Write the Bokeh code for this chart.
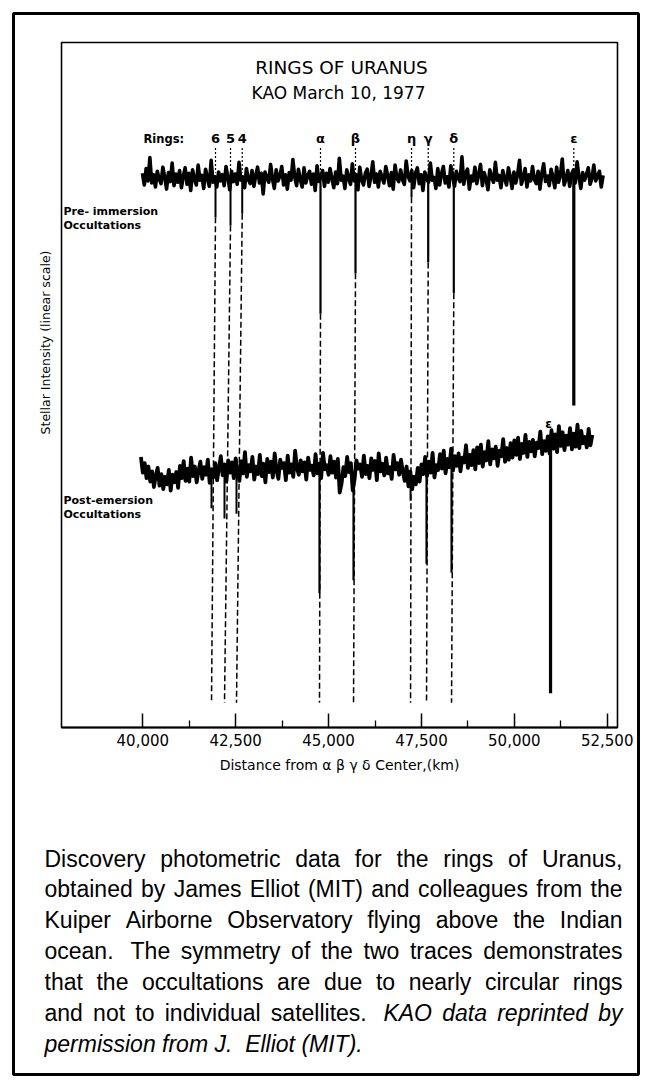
import re
import numpy as np
from bokeh.plotting import figure
from bokeh.models import (Label, LabelSet, BoxAnnotation, FixedTicker,
                          NumeralTickFormatter, Range1d, ColumnDataSource)
from bokeh.embed import file_html
from bokeh.resources import INLINE
from bokeh.core.properties import value

# ---------------- data ----------------
ring_labels = ["6", "5", "4", "α", "β", "η", "γ", "δ", "ε"]
pre_ring_km = [41957, 42361, 42676, 44783, 45725, 47233, 47682, 48371, 51601]
pre_ring_min = [74.5, 73.3, 75.0, 60.4, 66.3, 77.4, 67.9, 63.4, 47.0]
post_ring_km = [41849, 42199, 42522, 44756, 45672, 47207, 47637, 48310, 50975]
post_ring_min = [32.0, 30.5, 31.2, 19.6, 21.5, 33.1, 23.9, 22.6, 5.0]
has_connector = [True, True, True, True, True, True, True, True, False]
connector_end = 3.6

# pre-immersion trace, one reading every 50 km from 39,990 km
pre_start_km, pre_step_km = 39990, 50
pre_signal = [
    80.9, 79.2, 81.6, 79.8, 83.2, 79.5, 80.7, 78.9, 81.2, 80.1,
    79.4, 81.8, 80.3, 78.6, 81.0, 79.7, 82.4, 79.1, 80.8, 79.6,
    81.3, 78.8, 80.5, 81.7, 79.3, 80.9, 78.4, 81.4, 80.0, 79.2,
    82.1, 79.9, 80.6, 78.7, 81.5, 80.2, 79.0, 82.8, 79.6, 80.4,
    78.9, 81.1, 79.8, 80.7, 79.1, 81.9, 80.3, 78.5, 81.2, 79.7,
    80.8, 79.3, 82.5, 79.9, 80.4, 78.8, 81.6, 80.0, 79.4, 81.3,
    79.0, 80.6, 81.8, 79.5, 80.9, 77.9, 81.1, 80.2, 79.6, 82.2,
    80.1, 78.7, 81.4, 79.8, 80.5, 81.9, 79.2, 80.7, 78.6, 81.0,
    79.9, 82.9, 80.3, 79.1, 81.5, 80.0, 78.9, 81.7, 79.5, 80.6,
    81.2, 79.3, 80.8, 78.4, 82.0, 79.7, 80.4, 81.3, 79.0, 80.9,
    79.6, 81.6, 80.1, 78.8, 81.1, 79.4, 83.1, 79.9, 80.5, 78.7,
    81.4, 80.2, 79.3, 82.3, 79.8, 80.7, 78.5, 81.8, 80.0, 79.2,
    80.9, 81.5, 79.0, 80.4, 82.6, 79.6, 80.8, 78.9, 81.2, 80.3,
    79.5, 81.9, 80.6, 79.1, 81.0, 78.6, 82.1, 80.2, 79.7, 81.4,
    80.0, 79.3, 82.7, 80.5, 79.8, 81.3, 78.8, 80.9, 81.7, 79.4,
    80.7, 78.4, 81.1, 80.1, 79.6, 82.4, 79.9, 80.3, 78.7, 81.6,
    79.2, 80.8, 81.9, 79.5, 80.4, 78.9, 82.0, 80.6, 79.0, 81.2,
    80.2, 79.7, 83.3, 79.3, 80.9, 81.5, 78.6, 80.5, 79.8, 81.8,
    79.4, 80.7, 82.2, 79.1, 81.0, 80.0, 78.5, 81.4, 80.3, 79.6,
    82.5, 79.9, 80.6, 78.8, 81.3, 80.1, 79.2, 81.7, 80.4, 78.7,
    81.1, 79.5, 80.8, 82.8, 79.3, 80.2, 81.6, 78.9, 80.7, 79.8,
    81.9, 80.0, 79.4, 81.2, 78.6, 80.9, 82.3, 79.7, 80.5, 79.1,
    81.5, 80.3, 78.8, 81.8, 79.6, 80.6, 83.0, 79.2, 80.1, 81.3,
    79.0, 80.8, 81.4, 79.5, 82.6, 80.4, 78.7, 81.0, 79.9, 80.7,
    81.7, 79.3, 80.2, 82.1, 79.8, 80.5, 81.2, 78.9, 80.6]

# post-emersion trace, one reading every 50 km from 39,950 km
post_start_km, post_step_km = 39950, 50
post_signal = [
    39.5, 37.2, 38.6, 36.4, 38.1, 35.9, 37.4, 35.1, 36.8, 37.9,
    35.3, 37.0, 34.8, 36.6, 35.5, 37.6, 34.6, 36.9, 35.8, 37.3,
    35.0, 38.2, 36.4, 38.9, 36.0, 37.8, 35.9, 39.4, 36.7, 38.1,
    35.8, 37.5, 38.8, 36.3, 38.0, 36.9, 39.1, 35.7, 37.7, 36.5,
    38.6, 36.1, 37.9, 39.6, 36.8, 38.4, 35.9, 39.0, 37.2, 38.7,
    36.4, 39.3, 37.6, 36.0, 38.9, 37.1, 40.2, 36.6, 38.3, 37.4,
    39.5, 36.2, 38.1, 37.0, 39.8, 36.7, 38.5, 35.8, 39.2, 37.3,
    38.8, 36.5, 40.0, 37.5, 36.3, 39.1, 37.9, 38.6, 36.1, 39.7,
    37.2, 38.4, 36.6, 40.4, 37.8, 36.9, 39.0, 37.4, 38.7, 36.2,
    39.4, 37.6, 38.2, 36.8, 39.9, 37.1, 38.5, 36.4, 40.1, 37.7,
    38.3, 36.9, 39.6, 37.2, 38.8, 36.5, 39.2, 34.3, 35.6, 38.0,
    36.7, 39.5, 37.3, 38.6, 34.6, 36.2, 39.0, 37.8, 38.4, 36.6,
    39.7, 37.0, 38.2, 36.4, 39.3, 37.6, 38.9, 36.1, 40.0, 37.4,
    38.5, 36.8, 39.4, 37.1, 38.0, 36.3, 39.8, 37.7, 38.6, 36.9,
    39.1, 37.3, 36.0, 38.1, 35.2, 37.4, 34.8, 36.6, 35.5, 37.9,
    35.9, 38.4, 37.0, 39.5, 36.7, 38.8, 37.2, 40.1, 36.5, 38.3,
    37.6, 39.9, 37.8, 40.4, 37.1, 39.2, 38.0, 40.7, 37.5, 39.6,
    38.2, 40.0, 37.4, 39.4, 38.7, 41.2, 37.9, 39.8, 38.3, 40.5,
    37.7, 40.9, 38.6, 41.3, 38.1, 40.2, 39.0, 41.8, 38.4, 40.6,
    39.3, 41.0, 38.2, 40.4, 39.6, 42.1, 38.8, 40.8, 39.1, 41.5,
    39.4, 41.9, 39.8, 42.3, 39.2, 41.4, 40.1, 42.7, 39.5, 41.7,
    40.3, 42.0, 39.6, 41.6, 40.8, 43.2, 39.9, 41.8, 40.4, 42.5,
    40.0, 43.4, 40.7, 42.8, 40.2, 44.0, 41.1, 43.1, 40.5, 42.6,
    41.3, 43.7, 40.6, 42.9, 41.0, 44.2, 40.8, 43.3, 41.5, 42.4,
    40.9, 43.6, 41.2, 42.7]

x_ticks = [40000, 42500, 45000, 47500, 50000, 52500]
x_minor_ticks = [41250, 43750, 46250, 48750, 51250]
plot_km = (37812, 52777)          # horizontal extent of the plot box
intensity = (0, 100)               # vertical extent of the plot box

title_lines = ["RINGS OF URANUS", "KAO March 10, 1977"]
y_label = "Stellar Intensity (linear scale)"
x_label = "Distance from α β γ δ Center,(km)"
caption_lines = [
    ("Discovery photometric data for the rings of Uranus,", None, True),
    ("obtained by James Elliot (MIT) and colleagues from the", None, True),
    ("Kuiper Airborne Observatory flying above the Indian", None, True),
    ("ocean.  The symmetry of the two traces demonstrates", None, True),
    ("that the occultations are due to nearly circular rings", None, True),
    ("and not to individual satellites.  KAO data reprinted by", 5, True),
    ("permission from J.  Elliot (MIT).", 0, False),
]

# ---------------- geometry: page pixels <-> data ----------------
W, H = 648, 1080
PX_PER_KM = 0.037152      # horizontal scale
X40K_PX = 142.3           # page x of 40,000 km
PX_PER_UNIT = 6.85        # vertical scale
Y0_PX = 727               # page y of intensity 0


def xd(px):
    return 40000 + (px - X40K_PX) / PX_PER_KM


def yd(py):
    return (Y0_PX - py) / PX_PER_UNIT


p = figure(width=W, height=H,
           x_range=Range1d(xd(0), xd(W)), y_range=Range1d(yd(H), yd(0)),
           output_backend="svg", toolbar_location=None, title=None,
           y_axis_location=None,
           min_border_left=0, min_border_right=0, min_border_top=0, min_border_bottom=0)
p.grid.visible = False
p.background_fill_color = "white"
p.border_fill_color = "white"
p.outline_line_color = None

# plot box
p.quad(left=[plot_km[0]], right=[plot_km[1]], bottom=[intensity[0]], top=[intensity[1]],
       fill_color=None, line_color="black", line_width=1.6)

ax = p.xaxis[0]
ax.fixed_location = intensity[0]
ax.bounds = plot_km
ax.ticker = FixedTicker(ticks=x_ticks, minor_ticks=x_minor_ticks)
ax.formatter = NumeralTickFormatter(format="0,0")
ax.major_tick_in = 14
ax.major_tick_out = 0
ax.minor_tick_in = 7
ax.minor_tick_out = 0
ax.major_tick_line_width = 1.5
ax.minor_tick_line_width = 1.3
ax.axis_line_width = 2
ax.major_label_standoff = 6
ax.major_label_text_font = "DejaVu Sans"
ax.major_label_text_font_size = "15px"
ax.major_label_text_color = "black"
ax.axis_label = x_label
ax.axis_label_text_font = "DejaVu Sans"
ax.axis_label_text_font_style = "normal"
ax.axis_label_text_font_size = "14px"
ax.axis_label_text_color = "black"
ax.axis_label_standoff = 8

# dotted markers above the upper trace
n = len(pre_ring_km)
p.segment(x0=pre_ring_km, y0=[84.6] * n, x1=pre_ring_km, y1=[81.0] * n,
          line_color="black", line_width=1.2, line_dash="2 2")

# dashed connectors
cx0 = [x for x, c in zip(pre_ring_km, has_connector) if c]
cy0 = [y for y, c in zip(pre_ring_min, has_connector) if c]
cx1 = [x for x, c in zip(post_ring_km, has_connector) if c]
p.segment(x0=cx0, y0=cy0, x1=cx1, y1=[connector_end] * len(cx1),
          line_color="black", line_width=1.5, line_dash="6 3")

# traces
pre_x = pre_start_km + pre_step_km * np.arange(len(pre_signal))
post_x = post_start_km + post_step_km * np.arange(len(post_signal))
p.line(pre_x, pre_signal, line_color="black", line_width=3.6, line_join="round")
p.line(post_x, post_signal, line_color="black", line_width=3.8, line_join="round")

# occultation dips
pre_base = np.interp(pre_ring_km, pre_x, pre_signal)
post_base = np.interp(post_ring_km, post_x, post_signal)
dip_w = [2, 2, 2, 2.2, 2.2, 2, 2.2, 2.2, 3.2]
p.segment(x0=pre_ring_km, y0=pre_base, x1=pre_ring_km, y1=pre_ring_min,
          line_color="black", line_width=dip_w)
p.segment(x0=post_ring_km, y0=post_base, x1=post_ring_km, y1=post_ring_min,
          line_color="black", line_width=dip_w)

# ring labels
p.text(x=pre_ring_km, y=[86.0] * n, text=ring_labels,
       text_align="center", text_baseline="middle", text_color="black",
       text_font=value("DejaVu Sans"), text_font_size="13px", text_font_style="bold")


def lab(px, py, text, size, style="normal", align="left", font="DejaVu Sans", angle=0):
    p.add_layout(Label(x=xd(px), y=yd(py), text=text, text_align=align,
                       text_baseline="middle", text_font=font, text_font_size=size,
                       text_font_style=style, text_color="black", angle=angle))


lab(143, 138, "Rings:", "11.5px", "bold")
p.add_layout(Label(x=post_ring_km[-1] - 55, y=yd(423), text=ring_labels[-1],
                   text_align="center", text_baseline="middle", text_font="DejaVu Sans",
                   text_font_size="12px", text_font_style="bold", text_color="black"))
for txt, py in [("Pre- immersion", 211), ("Occultations", 225),
                ("Post-emersion", 500), ("Occultations", 514)]:
    lab(63, py, txt, "11px", "bold")

for txt, (px, py), fs in zip(title_lines, [(341, 67), (338, 92)], ["18.5px", "17px"]):
    lab(px, py, txt, fs, align="center")

lab(45, 342, y_label, "12.5px", align="center", angle=np.pi / 2)

# caption, justified with Arial metrics (Liberation Sans is metric compatible)
ARIAL = {' ': 278, ',': 278, '.': 278, '(': 333, ')': 333, 'A': 667, 'D': 722,
         'E': 667, 'I': 278, 'J': 500, 'K': 667, 'M': 833, 'O': 778, 'T': 611,
         'U': 722, 'a': 556, 'b': 556, 'c': 500, 'd': 556, 'e': 556, 'f': 278,
         'g': 556, 'h': 556, 'i': 222, 'j': 222, 'k': 500, 'l': 222, 'm': 833,
         'n': 556, 'o': 556, 'p': 556, 'q': 556, 'r': 333, 's': 500, 't': 278,
         'u': 556, 'v': 500, 'w': 722, 'x': 500, 'y': 500, 'z': 500}
CAP_FS = 23
CAP_L, CAP_R = 44, 622
CAP_Y0, CAP_DY = 858, 30.9


def tw(s):
    return sum(ARIAL.get(c, 556) for c in s) / 1000 * CAP_FS


norm = dict(x=[], y=[], text=[])
ital = dict(x=[], y=[], text=[])
for li, (line, it_from, just) in enumerate(caption_lines):
    parts = re.split(r"( +)", line)
    words, gaps = parts[0::2], [len(g) for g in parts[1::2]]
    widths = [tw(w) for w in words]
    nat = sum(widths) + sum(g * tw(" ") for g in gaps)
    extra = (CAP_R - CAP_L - nat) / len(gaps) if just else 0
    xcur = CAP_L
    for k, w in enumerate(words):
        tgt = ital if (it_from is not None and k >= it_from) else norm
        tgt["x"].append(xd(xcur))
        tgt["y"].append(yd(CAP_Y0 + li * CAP_DY))
        tgt["text"].append(w)
        if k < len(gaps):
            xcur += widths[k] + gaps[k] * tw(" ") + extra

for d, style in [(norm, "normal"), (ital, "italic")]:
    p.add_layout(LabelSet(x="x", y="y", text="text", source=ColumnDataSource(d),
                          text_align="left", text_baseline="middle",
                          text_font=value("Liberation Sans"),
                          text_font_size=value(f"{CAP_FS}px"),
                          text_font_style=value(style), text_color="black"))

# outer border
p.add_layout(BoxAnnotation(left=xd(13), right=xd(638), top=yd(13), bottom=yd(1074),
                           fill_color=None, fill_alpha=0, line_color="black",
                           line_alpha=1.0, line_width=3))

open("out.html", "w").write(file_html(p, INLINE))
